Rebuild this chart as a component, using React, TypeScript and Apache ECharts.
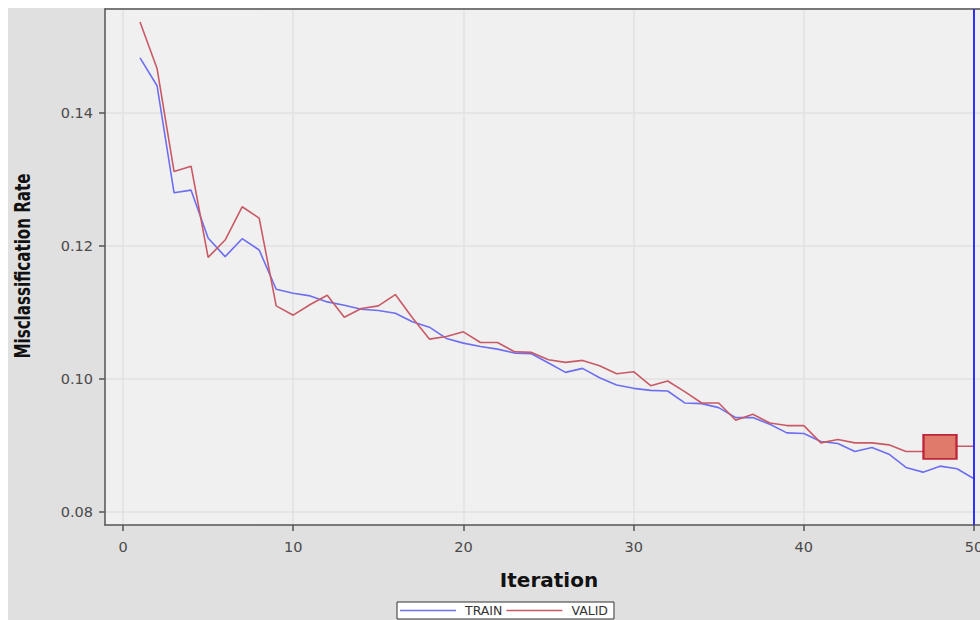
import React, { useEffect, useRef } from "react";
import * as echarts from "echarts";

const iterations = Array.from({ length: 50 }, (_, i) => i + 1);

const trainRate = [
  0.1483, 0.1441, 0.128, 0.1284, 0.1212, 0.1184, 0.1211, 0.1194, 0.1135, 0.1129,
  0.1125, 0.1116, 0.1111, 0.1105, 0.1103, 0.1099, 0.1086, 0.1078, 0.1061, 0.1054,
  0.1049, 0.1045, 0.1039, 0.1038, 0.1024, 0.101, 0.1016, 0.1002, 0.0991, 0.0986,
  0.0983, 0.0982, 0.0964, 0.0963, 0.0957, 0.0942, 0.0942, 0.0932, 0.0919, 0.0918,
  0.0906, 0.0903, 0.0891, 0.0897, 0.0887, 0.0867, 0.086, 0.0869, 0.0865, 0.085,
];

const validRate = [
  0.1537, 0.1467, 0.1312, 0.132, 0.1183, 0.1209, 0.1259, 0.1242, 0.111, 0.1096,
  0.1112, 0.1126, 0.1093, 0.1106, 0.111, 0.1127, 0.1092, 0.106, 0.1064, 0.1071,
  0.1055, 0.1055, 0.1041, 0.104, 0.1029, 0.1025, 0.1028, 0.102, 0.1008, 0.1011,
  0.099, 0.0997, 0.0981, 0.0964, 0.0964, 0.0938, 0.0947, 0.0934, 0.093, 0.093,
  0.0904, 0.0909, 0.0904, 0.0904, 0.0901, 0.0891, 0.0891, 0.0898, 0.0899, 0.0899,
];

const xTicks = [0, 10, 20, 30, 40, 50];
const yTicks = [0.08, 0.1, 0.12, 0.14];
const selectedIteration = 48;
const finalIteration = 50;

const seriesNames = ["TRAIN", "VALID"];

export default function App() {
  const ref = useRef<HTMLDivElement>(null);

  useEffect(() => {
    if (!ref.current) return;
    const chart = echarts.init(ref.current, null, { renderer: "svg" });
    const axisFont = "'DejaVu Sans', sans-serif";
    const trainData = iterations.map((it, i) => [it, trainRate[i]]);
    const validData = iterations.map((it, i) => [it, validRate[i]]);
    chart.setOption({
      animation: false,
      backgroundColor: "#e0e0e0",
      grid: {
        left: 97,
        right: 0,
        top: 1,
        bottom: 95,
        outerBoundsMode: "none",
        containLabel: false,
        show: true,
        backgroundColor: "#f0f0f0",
        borderWidth: 0,
      },
      legend: {
        data: seriesNames.map((n) => ({ name: n, icon: "rect" })),
        left: 389,
        top: 594,
        itemWidth: 56,
        itemHeight: 1.6,
        itemGap: 4,
        padding: [2, 6, 2, 3],
        backgroundColor: "#ffffff",
        borderColor: "#333333",
        borderWidth: 1,
        borderRadius: 0,
        textStyle: {
          fontSize: 12.5,
          color: "#333",
          fontFamily: axisFont,
          lineHeight: 12,
          padding: [0, 0, 0, 4],
        },
      },
      xAxis: [
        {
          type: "value",
          min: -1.058,
          max: 50.35,
          splitNumber: 5,
          axisLine: { show: true, onZero: false, lineStyle: { color: "#555", width: 1.5 } },
          axisTick: { show: true, length: 6, customValues: xTicks, lineStyle: { color: "#555", width: 1.5 } },
          axisLabel: {
            customValues: xTicks,
            color: "#4a4a4a",
            fontSize: 14.5,
            fontFamily: axisFont,
            margin: 14,
            formatter: (v: number) => String(v),
          },
          splitLine: { show: true, lineStyle: { color: "#e2e2e2", width: 1.5 } },
        },
        {
          type: "value",
          position: "top",
          min: -1.058,
          max: 50.35,
          axisLine: { show: true, onZero: false, lineStyle: { color: "#555", width: 1.5 } },
          axisTick: { show: false },
          axisLabel: { show: false },
          splitLine: { show: false },
        },
      ],
      yAxis: {
        type: "value",
        min: 0.07805,
        max: 0.15564,
        splitNumber: 4,
        axisLine: { show: true, onZero: false, lineStyle: { color: "#555", width: 1.5 } },
        axisTick: { show: true, length: 6, customValues: yTicks, lineStyle: { color: "#555", width: 1.5 } },
        axisLabel: {
          customValues: yTicks,
          color: "#4a4a4a",
          fontSize: 14.5,
          fontFamily: axisFont,
          margin: 12,
          formatter: (v: number) => v.toFixed(2),
        },
        splitLine: { show: true, lineStyle: { color: "#e2e2e2", width: 1.5 } },
      },
      series: [
        {
          name: seriesNames[0],
          type: "line",
          data: trainData,
          symbol: "none",
          lineStyle: { color: "#6e6ef0", width: 1.6 },
          itemStyle: { color: "#6e6ef0" },
          z: 3,
          markLine: {
            silent: true,
            symbol: "none",
            label: { show: false },
            lineStyle: { color: "#2f2fff", width: 2, type: "solid" },
            data: [{ xAxis: finalIteration }],
          },
        },
        {
          name: seriesNames[1],
          type: "line",
          data: validData,
          symbol: "none",
          lineStyle: { color: "#c85a66", width: 1.6 },
          itemStyle: { color: "#c85a66" },
          z: 4,
          markPoint: {
            silent: true,
            symbol: "rect",
            symbolSize: [33, 24],
            label: { show: false },
            itemStyle: { color: "#e07a6a", borderColor: "#c0263a", borderWidth: 2 },
            data: [{ coord: [selectedIteration, validRate[selectedIteration - 1]] }],
          },
        },
      ],
      graphic: [
        {
          type: "text",
          x: 14,
          y: 258,
          rotation: Math.PI / 2,
          scaleX: 0.8,
          style: {
            text: "Misclassification Rate",
            font: "bold 21px 'Liberation Sans Narrow', 'DejaVu Sans Condensed', sans-serif",
            fill: "#111",
            textAlign: "center",
            textVerticalAlign: "middle",
          },
        },
        {
          type: "text",
          x: 541,
          y: 572,
          style: {
            text: "Iteration",
            font: "bold 20px 'DejaVu Sans', sans-serif",
            fill: "#111",
            textAlign: "center",
            textVerticalAlign: "middle",
          },
        },
      ],
    });
    return () => chart.dispose();
  }, []);

  return (
    <div
      ref={ref}
      style={{ position: "fixed", left: 8, top: 8, width: 972, height: 612 }}
    />
  );
}
